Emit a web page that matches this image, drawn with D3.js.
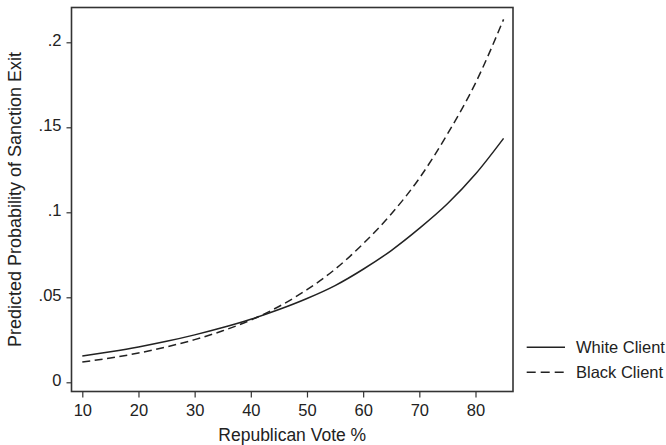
<!DOCTYPE html>
<html>
<head>
<meta charset="utf-8">
<script src="https://cdn.jsdelivr.net/npm/d3@7/dist/d3.min.js"></script>
<style>
  html, body { margin: 0; padding: 0; background: #fff; }
  svg { display: block; font-family: "Liberation Sans", Arial, sans-serif; }
</style>
</head>
<body>
<svg id="chart" width="666" height="445"></svg>
<script>
// ---- data ----
const voteShare = [10, 15, 20, 25, 30, 35, 40, 45, 50, 55, 60, 65, 70, 75, 80, 85];
const whiteClient = [0.0155, 0.0180, 0.0208, 0.0241, 0.0279, 0.0322, 0.0371, 0.0428, 0.0493, 0.0569, 0.0665, 0.0775, 0.0905, 0.1050, 0.1225, 0.1435];
const blackClient = [0.0119, 0.0143, 0.0172, 0.0208, 0.0251, 0.0303, 0.0366, 0.0446, 0.0545, 0.0665, 0.0815, 0.0990, 0.1200, 0.1460, 0.1760, 0.2135];
const xTicks = [10, 20, 30, 40, 50, 60, 70, 80];
const yTicks = [0, 0.05, 0.1, 0.15, 0.2];
const yTickLabels = ["0", ".05", ".1", ".15", ".2"];
const seriesNames = ["White Client", "Black Client"];
const xTitle = "Republican Vote %";
const yTitle = "Predicted Probability of Sanction Exit";

// ---- layout ----
const svg = d3.select("#chart");
const plot = { left: 71.5, right: 513, top: 7.5, bottom: 391.5 };
const ink = "#222";

const x = d3.scaleLinear().domain([10, 80]).range([82.3, 475.5]);
const y = d3.scaleLinear().domain([0, 0.2]).range([382.3, 42.3]);

// frame
svg.append("rect")
  .attr("x", plot.left).attr("y", plot.top)
  .attr("width", plot.right - plot.left).attr("height", plot.bottom - plot.top)
  .attr("fill", "none").attr("stroke", "#333").attr("stroke-width", 1.6);

// x axis
const xAxis = d3.axisBottom(x).tickValues(xTicks).tickSize(6).tickPadding(7).tickFormat(d3.format("d"));
const gx = svg.append("g").attr("transform", `translate(0,${plot.bottom})`).call(xAxis);
gx.select(".domain").remove();
gx.selectAll(".tick line").attr("stroke", "#333").attr("stroke-width", 1.2);
gx.selectAll(".tick text").attr("fill", ink).attr("font-size", 16.5).attr("font-family", "Liberation Sans, Arial, sans-serif");

// y axis
const yAxis = d3.axisLeft(y).tickValues(yTicks).tickSize(5).tickPadding(5)
  .tickFormat((d, i) => yTickLabels[i]);
const gy = svg.append("g").attr("transform", `translate(${plot.left},0)`).call(yAxis);
gy.select(".domain").remove();
gy.selectAll(".tick line").attr("stroke", "#333").attr("stroke-width", 1.2);
gy.selectAll(".tick text").attr("fill", ink).attr("font-size", 16.5).attr("dy", "0.2em")
  .attr("font-family", "Liberation Sans, Arial, sans-serif");

// titles
svg.append("text")
  .attr("x", (plot.left + plot.right) / 2).attr("y", 441)
  .attr("text-anchor", "middle").attr("font-size", 17.5).attr("fill", ink)
  .text(xTitle);
svg.append("text")
  .attr("transform", `translate(21,${(plot.top + plot.bottom) / 2}) rotate(-90)`)
  .attr("text-anchor", "middle").attr("font-size", 18).attr("fill", ink)
  .text(yTitle);

// lines
const line = d3.line().x(d => x(d[0])).y(d => y(d[1])).curve(d3.curveMonotoneX);
const series = [
  { name: seriesNames[0], values: whiteClient, dash: null },
  { name: seriesNames[1], values: blackClient, dash: "8,4.5" }
];
series.forEach(s => {
  svg.append("path")
    .datum(voteShare.map((v, i) => [v, s.values[i]]))
    .attr("d", line)
    .attr("fill", "none").attr("stroke", ink).attr("stroke-width", 1.5)
    .attr("stroke-dasharray", s.dash);
});

// legend
const legend = svg.append("g");
series.forEach((s, i) => {
  const ly = 347.3 + i * 25;
  legend.append("line")
    .attr("x1", 526.7).attr("x2", 565).attr("y1", ly).attr("y2", ly)
    .attr("stroke", ink).attr("stroke-width", 1.5)
    .attr("stroke-dasharray", s.dash ? "9,5" : null);
  legend.append("text")
    .attr("x", 576).attr("y", ly + 6)
    .attr("font-size", 16.5).attr("fill", ink)
    .text(s.name);
});
</script>
</body>
</html>
